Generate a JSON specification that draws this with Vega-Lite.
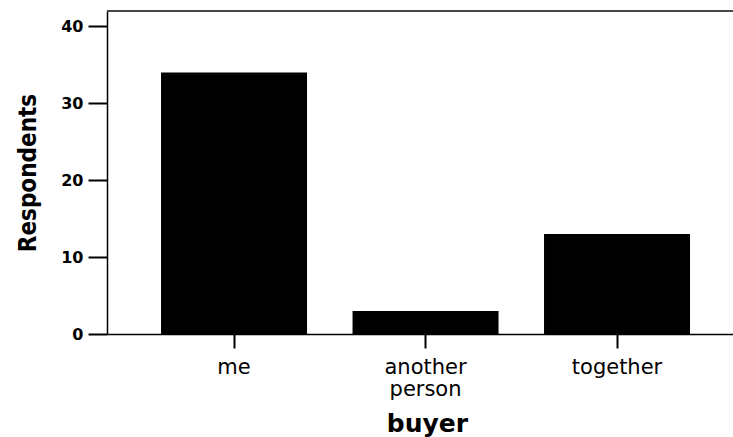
{
  "$schema": "https://vega.github.io/schema/vega-lite/v6.json",
  "autosize": "none",
  "padding": {"left": 107, "top": 11, "right": 0, "bottom": 103},
  "width": 626,
  "height": 323,
  "background": "white",
  "config": {"view": {"stroke": null}},
  "data": {"values": [
    {"buyer": "me", "respondents": 34},
    {"buyer": "another person", "respondents": 3},
    {"buyer": "together", "respondents": 13}
  ]},
  "layer": [
    {
      "mark": {"type": "bar", "color": "black"},
      "encoding": {
        "x": {
          "field": "buyer", "type": "nominal", "sort": null,
          "scale": {"paddingInner": 0.2376, "paddingOuter": 0.2533, "align": 0.557},
          "axis": {
            "title": "buyer", "titleFont": "DejaVu Sans", "titleFontSize": 25, "titleFontWeight": "bold",
            "titleColor": "black", "titlePadding": 12, "titleX": 320,
            "labelAngle": 0, "labelFont": "DejaVu Sans", "labelFontSize": 21, "labelColor": "black",
            "labelExpr": "split(datum.label, ' ')", "labelLineHeight": 22, "labelPadding": 8,
            "tickSize": 14, "tickWidth": 2, "tickColor": "black",
            "domainColor": "black", "domainWidth": 1.5
          }
        },
        "y": {
          "field": "respondents", "type": "quantitative",
          "scale": {"domain": [0, 42], "nice": false},
          "axis": {
            "title": "Respondents", "titleFont": "DejaVu Sans Condensed, DejaVu Sans", "titleFontSize": 24, "titleFontWeight": "bold",
            "titleColor": "black", "titlePadding": 20,
            "values": [0, 10, 20, 30, 40], "grid": false,
            "labelFont": "DejaVu Sans", "labelFontSize": 16, "labelFontWeight": "bold", "labelColor": "black", "labelPadding": 5,
            "tickSize": 19, "tickWidth": 2, "tickColor": "black",
            "domainColor": "black", "domainWidth": 1.5
          }
        }
      }
    },
    {
      "mark": {"type": "rule", "color": "#444", "strokeWidth": 1.5},
      "encoding": {"y": {"datum": 42}}
    }
  ]
}
